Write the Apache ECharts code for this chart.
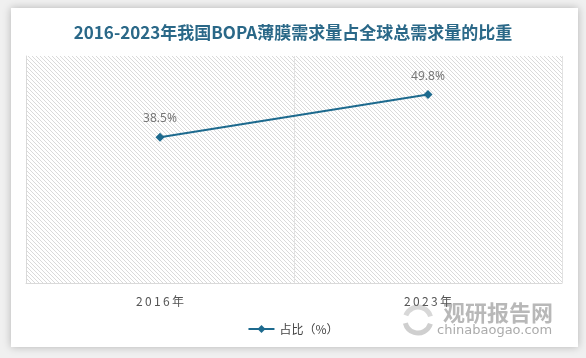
<!DOCTYPE html>
<html><head><meta charset="utf-8">
<script src="https://cdn.jsdelivr.net/npm/echarts@6/dist/echarts.min.js"></script>
<style>
html,body{margin:0;padding:0;background:#f0f0f0;}
#card{position:absolute;left:11px;top:8px;width:567px;height:339px;background:#fff;box-shadow:0 0 8px rgba(0,0,0,0.25);}
#main{position:absolute;left:0;top:0;width:586px;height:358px;}
</style></head>
<body>
<div id="card"></div>
<div id="main"></div>
<script>
var titleText = '2016-2023年我国BOPA薄膜需求量占全球总需求量的比重';
var categories = ['2016年', '2023年'];
var seriesName = '占比（%）';
var shareValues = [38.5, 49.8];

var pc = document.createElement('canvas');
pc.width = 4; pc.height = 4;
var ctx = pc.getContext('2d');
ctx.fillStyle = '#ffffff';
ctx.fillRect(0,0,4,4);
ctx.fillStyle = '#dadada';
for (var i = 0; i < 4; i++) { ctx.fillRect(i, i, 1, 1); }

var chart = echarts.init(document.getElementById('main'), null, {renderer:'canvas'});
chart.setOption({
  backgroundColor: 'transparent',
  animation: false,
  title: {
    text: titleText, left: 'center', top: 19,
    textStyle: {fontSize: 17, fontWeight: 'bold', color: '#2a6888', fontFamily: 'Noto Sans CJK SC'}
  },
  grid: {left: 26, right: 24, top: 56, bottom: 75, show: true, borderWidth: 0,
    backgroundColor: {image: pc, repeat: 'repeat'}},
  legend: {
    bottom: 18, left: 'center', itemWidth: 26, itemHeight: 10,
    textStyle: {fontSize: 12, color: '#444', fontFamily: 'Noto Sans CJK SC'},
    data: [seriesName]
  },
  xAxis: {
    type: 'category', data: categories, boundaryGap: true,
    axisLine: {lineStyle: {color: '#d9d9d9', width: 1}},
    axisTick: {show: false},
    splitLine: {show: true, lineStyle: {color: '#e2e2e2'}},
    axisLabel: {margin: 12, fontSize: 12, color: '#555', fontFamily: 'Noto Sans CJK SC',
      formatter: function(v){ return v.split('').join('\u2009'); }}
  },
  yAxis: {
    type: 'value', min: 0, max: 60,
    axisLine: {show: true, lineStyle: {color: '#d9d9d9'}},
    axisLabel: {show: false}, axisTick: {show: false}, splitLine: {show: false}
  },
  graphic: [
    {type: 'text', left: 443, top: 302, style: {text: '观研报告网', fontSize: 22, fontWeight: 'bold', fill: '#b8b8b8', fontFamily: 'Noto Sans CJK SC'}},
    {type: 'text', left: 437, top: 324, style: {text: 'chinabaogao.com', fontSize: 13, fill: '#ababab', fontFamily: 'DejaVu Sans'}},
    {type: 'arc', shape: {cx: 418, cy: 320, r: 13, startAngle: 0.3, endAngle: 2.9}, style: {fill: 'none', stroke: '#cfcfcf', lineWidth: 5}},
    {type: 'arc', shape: {cx: 418, cy: 320, r: 13, startAngle: 3.5, endAngle: 6.0}, style: {fill: 'none', stroke: '#d8d8d8', lineWidth: 5}}
  ],
  series: [{
    name: seriesName, type: 'line', data: shareValues,
    symbol: 'diamond', symbolSize: 9,
    itemStyle: {color: '#1d6a8e'},
    lineStyle: {color: '#1d6a8e', width: 2},
    label: {show: true, position: 'top', distance: 8, formatter: '{c}%', fontSize: 12, color: '#777', fontFamily: 'Noto Sans'}
  }]
});
</script>
</body></html>
